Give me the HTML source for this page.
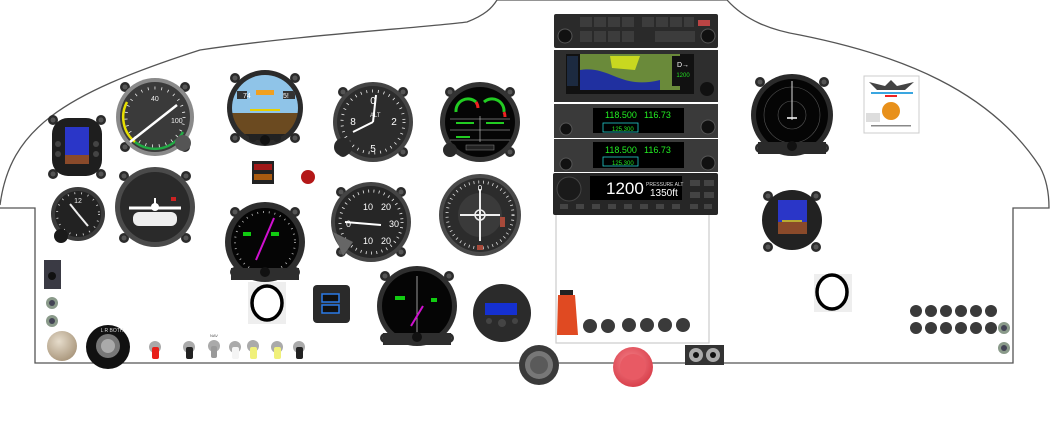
<!DOCTYPE html>
<html><head><meta charset="utf-8"><style>
html,body{margin:0;padding:0;background:#fff;width:1050px;height:443px;overflow:hidden}
svg{display:block;font-family:"Liberation Sans",sans-serif}
</style></head><body>
<svg width="1050" height="443" viewBox="0 0 1050 443" xmlns="http://www.w3.org/2000/svg">
<defs>
<radialGradient id="gold" cx="40%" cy="35%" r="70%"><stop offset="0" stop-color="#e6dccb"/><stop offset="1" stop-color="#a8957a"/></radialGradient>
<radialGradient id="red" cx="45%" cy="40%" r="60%"><stop offset="0" stop-color="#f6858c"/><stop offset="1" stop-color="#d9404c"/></radialGradient>
<g id="bolt"><circle r="5" fill="#2b2b2b"/><circle r="2.5" fill="#555"/></g>
</defs>

<path d="M0,205 C10,130 60,95 200,50 C300,35 420,28 467,22 C485,15 492,8 497,0 L727,0 C745,20 770,30 800,35 C900,55 990,90 1040,167 C1047,180 1049,195 1049,208 L1013,208 L1013,363 L35,363 L35,208 L0,208" fill="none" stroke="#555" stroke-width="1.3"/>

<g transform="translate(77,147)">
<use href="#bolt" x="-24" y="-27"/><use href="#bolt" x="24" y="-27"/><use href="#bolt" x="-24" y="27"/><use href="#bolt" x="24" y="27"/>
<rect x="-25" y="-29" width="50" height="58" rx="16" fill="#1e1e1e"/>
<rect x="-12" y="-20" width="24" height="28" fill="#2a36c8"/><rect x="-12" y="8" width="24" height="9" fill="#8a4a2a"/>
<circle cx="-19" cy="-3" r="3" fill="#444"/><circle cx="-19" cy="7" r="3" fill="#444"/><circle cx="19" cy="-3" r="3" fill="#444"/><circle cx="19" cy="7" r="3" fill="#444"/>
</g>

<g transform="translate(78,214)">
<circle r="27" fill="#3b3b3b"/><circle r="23" fill="#222"/><circle r="21" fill="none" stroke="#ddd" stroke-width="2" stroke-dasharray="0.8 6"/>
<line x1="0" y1="0" x2="-8" y2="-10" stroke="#eee" stroke-width="2"/><line x1="0" y1="0" x2="10" y2="12" stroke="#eee" stroke-width="2"/>
<text x="0" y="-11" fill="#eee" font-size="7" text-anchor="middle">12</text>
<circle cx="-17" cy="22" r="7" fill="#1a1a1a"/>
</g>

<g transform="translate(155,117)">
<use href="#bolt" x="-30" y="-30"/><use href="#bolt" x="30" y="-30"/><use href="#bolt" x="-30" y="30"/><use href="#bolt" x="30" y="30"/>
<circle r="39" fill="#8a8a8a"/><circle r="35" fill="#3a3a3a"/>
<path d="M-28,-15 A32,32 0 0 0 -20,25" fill="none" stroke="#e8e000" stroke-width="2.5"/>
<path d="M-20,25 A32,32 0 0 0 28,15" fill="none" stroke="#22aa44" stroke-width="2.5"/>
<circle r="29" fill="none" stroke="#eee" stroke-width="3" stroke-dasharray="0.8 6"/>
<text x="-4" y="-16" fill="#eee" font-size="7">40</text><text x="16" y="6" fill="#eee" font-size="7">100</text>
<line x1="-25" y1="25" x2="22" y2="-12" stroke="#fff" stroke-width="2.5"/>
<circle cx="28" cy="26" r="8" fill="#555"/>
</g>

<g transform="translate(155,207)">
<use href="#bolt" x="-31" y="-31"/><use href="#bolt" x="31" y="-31"/><use href="#bolt" x="-31" y="31"/><use href="#bolt" x="31" y="31"/>
<circle r="40" fill="#4a4a4a"/><circle r="35" fill="#2a2a2a"/>
<rect x="-22" y="5" width="44" height="14" rx="6" fill="#eee"/>
<line x1="-26" y1="1" x2="26" y2="1" stroke="#fff" stroke-width="3"/><circle r="4" fill="#fff"/><line x1="0" y1="-3" x2="0" y2="-9" stroke="#fff" stroke-width="2"/>
<rect x="16" y="-10" width="5" height="4" fill="#c22"/>
</g>

<g transform="translate(265,108)">
<use href="#bolt" x="-30" y="-30"/><use href="#bolt" x="30" y="-30"/><use href="#bolt" x="-30" y="30"/><use href="#bolt" x="30" y="30"/>
<circle r="38" fill="#2b2b2b"/>
<clipPath id="ac"><circle r="33"/></clipPath>
<g clip-path="url(#ac)"><rect x="-40" y="-40" width="80" height="45" fill="#8fc4e8"/><rect x="-40" y="5" width="80" height="40" fill="#6b4a20"/>
<rect x="-28" y="-17" width="10" height="8" fill="#333"/><rect x="18" y="-17" width="12" height="8" fill="#333"/>
<rect x="-9" y="-18" width="18" height="5" fill="#f0a020"/>
<line x1="-15" y1="2" x2="15" y2="2" stroke="#e8d000" stroke-width="2"/>
<text x="-22" y="-10" fill="#fff" font-size="7">74</text><text x="18" y="-10" fill="#fff" font-size="7">5!</text>
<rect x="-33" y="26" width="66" height="10" fill="#222"/></g>
<circle cx="-12" cy="30" r="4" fill="#222"/><circle cx="12" cy="30" r="4" fill="#222"/><circle cx="0" cy="32" r="5" fill="#111"/>
</g>

<rect x="252" y="161" width="22" height="23" fill="#222"/>
<rect x="254" y="164" width="18" height="6" fill="#a01818"/><rect x="254" y="174" width="18" height="6" fill="#a85a10"/>
<circle cx="308" cy="177" r="7" fill="#b41818"/>

<g transform="translate(265,242)">
<use href="#bolt" x="-30" y="-30"/><use href="#bolt" x="30" y="-30"/><use href="#bolt" x="-30" y="30"/><use href="#bolt" x="30" y="30"/>
<circle r="40" fill="#2e2e2e"/><circle r="34" fill="#050505"/>
<circle r="30" fill="none" stroke="#bbb" stroke-width="2" stroke-dasharray="0.8 5"/>
<line x1="-9" y1="18" x2="9" y2="-24" stroke="#d010d0" stroke-width="2"/>
<rect x="-22" y="-10" width="8" height="4" fill="#1c1"/><rect x="6" y="-10" width="8" height="4" fill="#1c1"/>
<rect x="-34" y="26" width="68" height="12" fill="#2e2e2e"/><circle cy="30" r="5" fill="#111"/>
</g>

<g transform="translate(373,122)">
<use href="#bolt" x="-30" y="-30"/><use href="#bolt" x="30" y="-30"/><use href="#bolt" x="-30" y="30"/><use href="#bolt" x="30" y="30"/>
<circle r="40" fill="#444"/><circle r="36" fill="#2c2c2c"/>
<circle r="31" fill="none" stroke="#eee" stroke-width="3" stroke-dasharray="0.8 5"/>
<text x="0" y="-18" fill="#fff" font-size="10" text-anchor="middle">0</text>
<text x="-20" y="3" fill="#fff" font-size="10" text-anchor="middle">8</text><text x="21" y="3" fill="#fff" font-size="10" text-anchor="middle">2</text>
<text x="0" y="30" fill="#fff" font-size="10" text-anchor="middle">5</text>
<text x="-3" y="-5" fill="#eee" font-size="6">ALT</text>
<line x1="0" y1="0" x2="-20" y2="10" stroke="#fff" stroke-width="2"/><line x1="0" y1="0" x2="3" y2="-27" stroke="#fff" stroke-width="2"/>
<circle cx="-30" cy="25" r="9" fill="#2a2a2a"/>
</g>

<g transform="translate(371,222)">
<use href="#bolt" x="-30" y="-30"/><use href="#bolt" x="30" y="-30"/><use href="#bolt" x="-30" y="30"/><use href="#bolt" x="30" y="30"/>
<circle r="40" fill="#444"/><circle r="36" fill="#262626"/>
<circle r="31" fill="none" stroke="#eee" stroke-width="3" stroke-dasharray="0.8 4.5"/>
<text x="-8" y="-12" fill="#fff" font-size="9">10</text><text x="10" y="-12" fill="#fff" font-size="9">20</text>
<text x="18" y="5" fill="#fff" font-size="9">30</text><text x="-25" y="5" fill="#fff" font-size="9">0</text>
<text x="-8" y="22" fill="#fff" font-size="9">10</text><text x="10" y="22" fill="#fff" font-size="9">20</text>
<line x1="-26" y1="0" x2="10" y2="3" stroke="#fff" stroke-width="2"/>
<path d="M-38,10 L-28,34 L-18,20 Z" fill="#666"/>
</g>

<g transform="translate(480,122)">
<use href="#bolt" x="-30" y="-30"/><use href="#bolt" x="30" y="-30"/><use href="#bolt" x="-30" y="30"/><use href="#bolt" x="30" y="30"/>
<circle r="40" fill="#333"/><circle r="35" fill="#050505"/>
<path d="M-24,-10 A12,12 0 0 1 -4,-20" fill="none" stroke="#2c2" stroke-width="3"/><path d="M4,-20 A12,12 0 0 1 24,-10" fill="none" stroke="#2c2" stroke-width="3"/>
<path d="M-4,-20 A12,12 0 0 1 -2,-14" fill="none" stroke="#e22" stroke-width="3"/><path d="M24,-10 A12,12 0 0 1 25,-5" fill="none" stroke="#e22" stroke-width="3"/>
<g stroke="#ccc" stroke-width="0.6"><line x1="-30" y1="-3" x2="30" y2="-3"/><line x1="-30" y1="8" x2="30" y2="8"/><line x1="-30" y1="18" x2="30" y2="18"/><line x1="0" y1="-6" x2="0" y2="20"/></g>
<rect x="-24" y="0" width="18" height="2" fill="#2c2"/><rect x="6" y="0" width="18" height="2" fill="#2c2"/>
<rect x="-24" y="14" width="14" height="2" fill="#2c2"/>
<rect x="-14" y="23" width="28" height="5" fill="#222" stroke="#888" stroke-width="0.5"/>
<circle cx="-30" cy="28" r="7" fill="#2a2a2a"/>
</g>

<g transform="translate(480,215)">
<circle r="41" fill="#4a4a4a"/><circle r="37" fill="#2c2c2c"/>
<circle r="33" fill="none" stroke="#ddd" stroke-width="3" stroke-dasharray="0.8 4"/>
<circle r="22" fill="#3a3a3a"/>
<line x1="0" y1="-26" x2="0" y2="26" stroke="#eee" stroke-width="2"/><line x1="-20" y1="0" x2="20" y2="0" stroke="#eee" stroke-width="2"/>
<circle r="5" fill="none" stroke="#eee" stroke-width="1.5"/>
<rect x="20" y="2" width="5" height="10" fill="#a84a3a"/><rect x="-3" y="30" width="6" height="5" fill="#a84a3a"/>
<text x="0" y="-24" fill="#fff" font-size="8" text-anchor="middle">0</text>
</g>

<g transform="translate(417,306)">
<use href="#bolt" x="-32" y="-30"/><use href="#bolt" x="32" y="-30"/><use href="#bolt" x="-32" y="32"/><use href="#bolt" x="32" y="32"/>
<circle r="40" fill="#2e2e2e"/><circle r="35" fill="#050505"/>
<line x1="0" y1="-30" x2="0" y2="28" stroke="#999" stroke-width="1"/>
<line x1="-6" y1="20" x2="6" y2="0" stroke="#d010d0" stroke-width="2"/>
<rect x="-22" y="-10" width="10" height="4" fill="#1c1"/><rect x="14" y="-8" width="6" height="4" fill="#1c1"/>
<rect x="-34" y="27" width="68" height="12" fill="#2e2e2e"/><circle cy="31" r="5" fill="#111"/>
</g>

<rect x="313" y="285" width="37" height="38" rx="4" fill="#2a2a2a"/>
<rect x="322" y="294" width="17" height="8" fill="#111" stroke="#2a7ae8" stroke-width="1.5"/>
<rect x="322" y="305" width="17" height="8" fill="#111" stroke="#2a7ae8" stroke-width="1.5"/>

<rect x="248" y="282" width="38" height="42" fill="#eee"/>
<ellipse cx="267" cy="303" rx="15" ry="17" fill="#fff" stroke="#000" stroke-width="3.5"/>

<g transform="translate(502,313)">
<circle r="29" fill="#2b2b2b"/>
<rect x="-17" y="-10" width="32" height="12" fill="#1530d0"/>
<circle cx="-13" cy="8" r="3" fill="#444"/><circle cx="13" cy="8" r="3" fill="#444"/><circle cy="10" r="4" fill="#444"/>
</g>

<rect x="44" y="260" width="17" height="29" fill="#3a3a44"/><circle cx="52" cy="276" r="4" fill="#111"/>
<circle cx="52" cy="303" r="6" fill="#8a9a8a"/><circle cx="52" cy="303" r="3" fill="#445"/>
<circle cx="52" cy="321" r="6" fill="#8a9a8a"/><circle cx="52" cy="321" r="3" fill="#445"/>
<circle cx="62" cy="346" r="15" fill="url(#gold)"/>
<circle cx="108" cy="347" r="22" fill="#111"/><circle cx="108" cy="346" r="12" fill="#777"/><circle cx="108" cy="346" r="7" fill="#aaa"/>
<text x="112" y="332" fill="#ddd" font-size="5" text-anchor="middle">L  R  BOTH</text>

<g>
<circle cx="155" cy="347" r="6" fill="#aaa"/><rect x="152" y="347" width="7" height="12" rx="2" fill="#e8201a"/>
<circle cx="189" cy="347" r="6" fill="#aaa"/><rect x="186" y="347" width="7" height="12" rx="2" fill="#222"/>
<circle cx="214" cy="346" r="6" fill="#aaa"/><rect x="211" y="346" width="6" height="12" rx="2" fill="#999"/>
<text x="214" y="337" fill="#555" font-size="4" text-anchor="middle">NAV</text>
<circle cx="235" cy="347" r="6" fill="#aaa"/><rect x="232" y="347" width="7" height="12" rx="2" fill="#f4f4f4"/>
<circle cx="253" cy="346" r="6" fill="#aaa"/><rect x="250" y="347" width="7" height="12" rx="2" fill="#f0f07a"/>
<circle cx="277" cy="347" r="6" fill="#aaa"/><rect x="274" y="347" width="7" height="12" rx="2" fill="#f0f07a"/>
<circle cx="299" cy="347" r="6" fill="#aaa"/><rect x="296" y="347" width="7" height="12" rx="2" fill="#222"/>
</g>

<circle cx="539" cy="365" r="20" fill="#3a3a3a"/><circle cx="539" cy="365" r="14" fill="#777"/><circle cx="539" cy="365" r="9" fill="#5a5a5a"/>
<circle cx="633" cy="367" r="20" fill="url(#red)"/><circle cx="633" cy="367" r="13" fill="#e85a64"/>
<rect x="685" y="345" width="39" height="20" fill="#333"/>
<circle cx="696" cy="355" r="7" fill="#aaa"/><circle cx="696" cy="355" r="3" fill="#111"/>
<circle cx="713" cy="355" r="7" fill="#aaa"/><circle cx="713" cy="355" r="3" fill="#111"/>

<rect x="556" y="213" width="153" height="130" fill="#fff" stroke="#ccc" stroke-width="1.2"/>
<rect x="554" y="14" width="164" height="34" rx="2" fill="#2a2a2a"/>
<g fill="#3c3c3c"><rect x="580" y="17" width="12" height="10"/><rect x="594" y="17" width="12" height="10"/><rect x="608" y="17" width="12" height="10"/><rect x="622" y="17" width="12" height="10"/><rect x="642" y="17" width="12" height="10"/><rect x="656" y="17" width="12" height="10"/><rect x="670" y="17" width="12" height="10"/><rect x="684" y="17" width="10" height="10"/>
<rect x="580" y="31" width="12" height="11"/><rect x="594" y="31" width="12" height="11"/><rect x="608" y="31" width="12" height="11"/><rect x="622" y="31" width="12" height="11"/><rect x="655" y="31" width="40" height="11"/></g>
<circle cx="565" cy="36" r="7" fill="#111" stroke="#555"/><circle cx="708" cy="36" r="7" fill="#111" stroke="#555"/>
<rect x="698" y="20" width="12" height="6" fill="#b44"/>
<rect x="554" y="50" width="164" height="52" fill="#2e2e2e"/>
<rect x="566" y="54" width="128" height="40" fill="#111"/>
<rect x="580" y="54" width="100" height="36" fill="#6a8a3a"/><path d="M580,70 C610,65 620,90 660,80 L660,90 L580,90 Z" fill="#2030a0"/><path d="M610,56 L640,56 L635,70 L612,68 Z" fill="#c8d820"/>
<rect x="672" y="56" width="22" height="30" fill="#111"/><text x="683" y="67" fill="#fff" font-size="7" text-anchor="middle">D→</text><text x="683" y="77" fill="#2d2" font-size="6" text-anchor="middle">1200</text>
<rect x="567" y="56" width="11" height="30" fill="#1c2a40"/>
<circle cx="707" cy="89" r="7" fill="#111"/>
<rect x="554" y="104" width="164" height="34" fill="#3a3a3a"/>
<rect x="593" y="108" width="91" height="25" fill="#000"/>
<text x="605" y="118" fill="#2e2" font-size="9">118.500</text><text x="644" y="118" fill="#2e2" font-size="9">116.73</text>
<rect x="603" y="123" width="35" height="9" fill="none" stroke="#2cc" stroke-width="0.8"/><text x="612" y="131" fill="#2e2" font-size="6">125.300</text>
<circle cx="708" cy="127" r="7" fill="#111" stroke="#555"/><circle cx="566" cy="129" r="6" fill="#111" stroke="#555"/>
<rect x="554" y="139" width="164" height="33" fill="#3a3a3a"/>
<rect x="593" y="142" width="91" height="26" fill="#000"/>
<text x="605" y="153" fill="#2e2" font-size="9">118.500</text><text x="644" y="153" fill="#2e2" font-size="9">116.73</text>
<rect x="603" y="157" width="35" height="9" fill="none" stroke="#2cc" stroke-width="0.8"/><text x="612" y="165" fill="#2e2" font-size="6">125.300</text>
<circle cx="708" cy="163" r="7" fill="#111" stroke="#555"/><circle cx="566" cy="164" r="6" fill="#111" stroke="#555"/>
<rect x="553" y="173" width="165" height="42" rx="2" fill="#262626"/>
<rect x="590" y="176" width="92" height="24" fill="#000"/>
<text x="606" y="194" fill="#fff" font-size="17">1200</text><text x="646" y="186" fill="#ddd" font-size="5">PRESSURE ALT</text><text x="650" y="196" fill="#fff" font-size="10">1350ft</text>
<circle cx="569" cy="189" r="12" fill="#1a1a1a" stroke="#444"/>
<g fill="#444"><rect x="560" y="204" width="8" height="5"/><rect x="576" y="204" width="8" height="5"/><rect x="592" y="204" width="8" height="5"/><rect x="608" y="204" width="8" height="5"/><rect x="624" y="204" width="8" height="5"/><rect x="640" y="204" width="8" height="5"/><rect x="656" y="204" width="8" height="5"/><rect x="672" y="204" width="8" height="5"/><rect x="690" y="204" width="8" height="5"/><rect x="704" y="204" width="8" height="5"/><rect x="690" y="180" width="10" height="6"/><rect x="704" y="180" width="10" height="6"/><rect x="690" y="192" width="10" height="6"/><rect x="704" y="192" width="10" height="6"/></g>

<rect x="560" y="290" width="13" height="6" fill="#222"/>
<path d="M558,295 L575,295 L578,335 L557,335 Z" fill="#e04a22"/>
<g fill="#3a3a3a"><circle cx="590" cy="326" r="7"/><circle cx="608" cy="326" r="7"/><circle cx="629" cy="325" r="7"/><circle cx="647" cy="325" r="7"/><circle cx="665" cy="325" r="7"/><circle cx="683" cy="325" r="7"/></g>

<g transform="translate(792,115)">
<use href="#bolt" x="-32" y="-33"/><use href="#bolt" x="32" y="-33"/><use href="#bolt" x="-32" y="33"/><use href="#bolt" x="32" y="33"/>
<circle r="41" fill="#2a2a2a"/><circle r="36" fill="#050505"/>
<circle r="28" fill="none" stroke="#555" stroke-width="0.6"/><circle r="14" fill="none" stroke="#555" stroke-width="0.6"/>
<line x1="0" y1="-34" x2="0" y2="5" stroke="#ddd" stroke-width="1"/><line x1="-5" y1="3" x2="5" y2="3" stroke="#fff" stroke-width="1.5"/>
<rect x="-34" y="27" width="68" height="12" fill="#2a2a2a"/><circle cy="31" r="5" fill="#111"/>
</g>

<g transform="translate(792,220)">
<use href="#bolt" x="-24" y="-24"/><use href="#bolt" x="24" y="-24"/><use href="#bolt" x="-24" y="27"/><use href="#bolt" x="24" y="27"/>
<circle r="30" fill="#222"/>
<rect x="-14" y="-20" width="29" height="22" fill="#2a36c8"/><rect x="-14" y="2" width="29" height="12" fill="#8a4a2a"/>
<line x1="-10" y1="1" x2="10" y2="1" stroke="#e8d000" stroke-width="1.5"/>
</g>

<rect x="864" y="76" width="55" height="57" fill="#fff" stroke="#ccc"/>
<path d="M869,82 L885,86 L891,80 L897,86 L914,82 L905,90 L877,90 Z" fill="#444"/>
<rect x="871" y="92" width="42" height="2" fill="#3aa6e0"/><rect x="885" y="95" width="12" height="2" fill="#e22"/>
<circle cx="891" cy="111" r="9" fill="#e8901a"/>
<rect x="866" y="113" width="14" height="9" fill="#ddd"/>
<rect x="871" y="125" width="40" height="1.5" fill="#888"/>

<rect x="814" y="274" width="38" height="38" fill="#eee"/>
<ellipse cx="832" cy="292" rx="15" ry="17" fill="#fff" stroke="#000" stroke-width="3.5"/>

<g fill="#3a3a3a"><circle cx="916" cy="311" r="6"/><circle cx="931" cy="311" r="6"/><circle cx="946" cy="311" r="6"/><circle cx="961" cy="311" r="6"/><circle cx="976" cy="311" r="6"/><circle cx="991" cy="311" r="6"/>
<circle cx="916" cy="328" r="6"/><circle cx="931" cy="328" r="6"/><circle cx="946" cy="328" r="6"/><circle cx="961" cy="328" r="6"/><circle cx="976" cy="328" r="6"/><circle cx="991" cy="328" r="6"/></g>
<circle cx="1004" cy="328" r="6" fill="#8a9a8a"/><circle cx="1004" cy="328" r="3" fill="#445"/>
<circle cx="1004" cy="348" r="6" fill="#8a9a8a"/><circle cx="1004" cy="348" r="3" fill="#445"/>
</svg>
</body></html>
